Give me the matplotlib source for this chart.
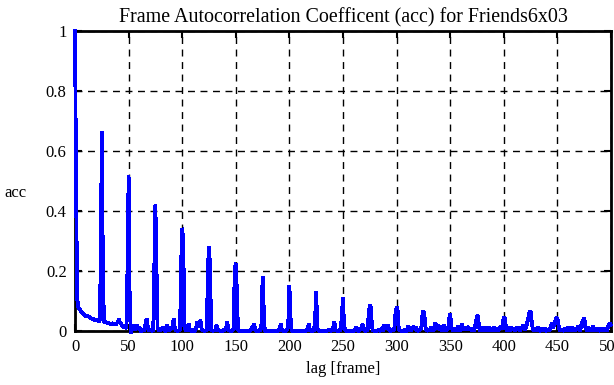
import numpy as np
import matplotlib
matplotlib.use("Agg")
import matplotlib.pyplot as plt

# acc values per lag, one row per 25 frames (lags 25r .. 25r+24)
acc_rows = [
    [1.00, 0.49, 0.11, 0.080, 0.075, 0.068, 0.063, 0.060, 0.055, 0.052, 0.050, 0.048, 0.050,
     0.047, 0.045, 0.043, 0.041, 0.040, 0.037, 0.038, 0.036, 0.035, 0.033, 0.034, 0.21],
    [0.665, 0.21, 0.030, 0.028, 0.030, 0.026, 0.028, 0.025, 0.023, 0.026, 0.024, 0.022, 0.025,
     0.021, 0.026, 0.030, 0.040, 0.025, 0.028, 0.015, 0.018, 0.010, 0.014, 0.008, 0.215],
    [0.518, 0.11, -0.008, 0.005, 0.012, 0.020, 0.004, 0.015, 0.020, 0.006, 0.012, 0.004, -0.003,
     0.008, 0.000, 0.012, 0.028, 0.042, 0.010, 0.002, 0.006, 0.002, 0.000, 0.004, 0.218],
    [0.42, 0.21, 0.010, 0.005, 0.000, 0.008, 0.003, 0.015, 0.005, 0.000, 0.002, 0.020, 0.005,
     0.003, 0.008, 0.010, 0.015, 0.042, 0.012, 0.000, 0.003, 0.000, 0.002, 0.005, 0.22],
    [0.343, 0.298, 0.015, 0.005, 0.000, 0.008, 0.025, 0.005, 0.002, 0.000, 0.004, 0.000, 0.002,
     0.010, 0.030, 0.012, 0.020, 0.036, 0.010, 0.000, 0.003, 0.000, 0.002, 0.005, 0.21],
    [0.283, 0.21, 0.005, 0.000, 0.003, 0.000, 0.005, 0.020, 0.008, 0.000, 0.003, 0.000, 0.002,
     0.000, 0.005, 0.003, 0.012, 0.030, 0.005, 0.000, 0.002, 0.000, 0.003, 0.005, 0.209],
    [0.226, 0.131, 0.005, 0.000, 0.002, 0.000, 0.003, 0.000, 0.002, 0.000, 0.003, 0.000, 0.002,
     0.000, 0.004, 0.010, 0.015, 0.025, 0.005, 0.000, 0.002, 0.000, 0.003, 0.002, 0.025],
    [0.183, 0.081, 0.003, 0.000, 0.002, 0.000, 0.003, 0.000, 0.002, 0.000, 0.002, 0.000, 0.003,
     0.000, 0.002, 0.000, 0.010, 0.023, 0.004, 0.000, 0.002, 0.000, 0.003, 0.002, 0.031],
    [0.153, 0.048, 0.003, 0.000, 0.002, 0.000, 0.003, 0.000, 0.002, 0.000, 0.003, 0.000, 0.002,
     0.000, 0.003, 0.000, 0.002, 0.010, 0.023, 0.004, 0.000, 0.002, 0.000, 0.003, 0.043],
    [0.133, 0.010, 0.002, 0.000, 0.003, 0.000, 0.002, 0.000, 0.003, 0.000, 0.002, 0.000, 0.008,
     0.000, 0.003, 0.000, 0.015, 0.030, 0.005, 0.000, 0.002, 0.000, 0.003, 0.005, 0.057],
    [0.111, 0.015, 0.004, 0.000, 0.002, 0.000, 0.003, 0.000, 0.002, 0.000, 0.003, 0.000, 0.015,
     0.005, 0.000, 0.002, 0.008, 0.004, 0.022, 0.015, 0.000, 0.002, 0.000, 0.005, 0.057],
    [0.087, 0.077, 0.015, 0.000, 0.003, 0.000, 0.002, 0.000, 0.005, 0.000, 0.002, 0.008, 0.000,
     0.020, 0.008, 0.015, 0.010, 0.020, 0.005, 0.000, 0.002, 0.005, 0.000, 0.010, 0.060],
    [0.080, 0.067, 0.008, 0.000, 0.003, 0.000, 0.002, 0.000, 0.005, 0.000, 0.002, 0.018, 0.005,
     0.000, 0.005, 0.010, 0.015, 0.005, 0.012, 0.000, 0.003, 0.000, 0.005, 0.010, 0.050],
    [0.067, 0.050, 0.010, 0.000, 0.003, 0.005, 0.000, 0.012, 0.005, 0.000, 0.008, 0.028, 0.015,
     0.005, 0.020, 0.005, 0.008, 0.000, 0.012, 0.020, 0.005, 0.000, 0.010, 0.005, 0.040],
    [0.057, 0.015, 0.005, 0.000, 0.010, 0.000, 0.005, 0.015, 0.008, 0.000, 0.012, 0.022, 0.010,
     0.005, 0.012, 0.003, 0.015, 0.008, 0.005, 0.010, 0.000, 0.005, 0.000, 0.012, 0.030],
    [0.050, 0.050, 0.010, 0.000, 0.005, 0.012, 0.000, 0.015, 0.005, 0.000, 0.008, 0.012, 0.005,
     0.000, 0.010, 0.005, 0.015, 0.000, 0.005, 0.010, 0.000, 0.008, 0.015, 0.005, 0.025],
    [0.045, 0.045, 0.010, 0.000, 0.005, 0.012, 0.000, 0.015, 0.005, 0.010, 0.000, 0.005, 0.015,
     0.003, 0.008, 0.000, 0.012, 0.005, 0.020, 0.010, 0.005, 0.015, 0.030, 0.045, 0.064],
    [0.064, 0.035, 0.005, 0.000, 0.010, 0.000, 0.005, 0.012, 0.000, 0.003, 0.008, 0.000, 0.005,
     0.010, 0.003, 0.000, 0.008, 0.000, 0.005, 0.015, 0.028, 0.010, 0.020, 0.033, 0.043],
    [0.043, 0.020, 0.005, 0.000, 0.008, 0.000, 0.003, 0.010, 0.005, 0.000, 0.012, 0.005, 0.000,
     0.008, 0.012, 0.005, 0.000, 0.010, 0.005, 0.015, 0.010, 0.000, 0.015, 0.028, 0.035],
    [0.045, 0.015, 0.005, 0.000, 0.012, 0.008, 0.000, 0.005, 0.015, 0.010, 0.000, 0.005, 0.000,
     0.010, 0.003, 0.000, 0.008, 0.005, 0.000, 0.010, 0.005, 0.000, 0.012, 0.022, 0.025],
    [0.020],
]
acc = [v for row in acc_rows for v in row]
lags = np.arange(len(acc))

xticks = [0, 50, 100, 150, 200, 250, 300, 350, 400, 450, 500]
xticklabels = ["0", "50", "100", "150", "200", "250", "300", "350", "400", "450", "500"]
yticks = [0, 0.2, 0.4, 0.6, 0.8, 1]
yticklabels = ["0", "0.2", "0.4", "0.6", "0.8", "1"]

plt.rcParams["font.family"] = ["Liberation Serif", "DejaVu Serif"]
plt.rcParams["font.size"] = 12

fig = plt.figure(figsize=(6.14, 3.85), dpi=100)
ax = fig.add_axes([75 / 614, 54 / 385, 536 / 614, 300 / 385])

ax.plot(lags, acc, color="#0000ff", linewidth=2.0, antialiased=False,
        solid_joinstyle="bevel", clip_on=False, zorder=3)

ax.set_xlim(0, 500)
ax.set_ylim(0, 1)
ax.set_xticks(xticks)
ax.set_xticklabels(xticklabels)
ax.set_yticks(yticks)
ax.set_yticklabels(yticklabels)
ax.tick_params(direction="in", length=5, width=1.5, top=True, right=True, pad=6)
ax.grid(True, color="black", linestyle=(0, (5, 4)), linewidth=1.0)
for s in ax.spines.values():
    s.set_linewidth(2)

ax.set_title("Frame Autocorrelation Coefficent (acc) for Friends6x03", pad=6)
ax.set_xlabel("lag [frame]", labelpad=4)
ax.set_ylabel("acc", rotation=0, va="center")
ax.yaxis.set_label_coords(-0.112, 0.46)

fig.savefig("out.png", dpi=100)
